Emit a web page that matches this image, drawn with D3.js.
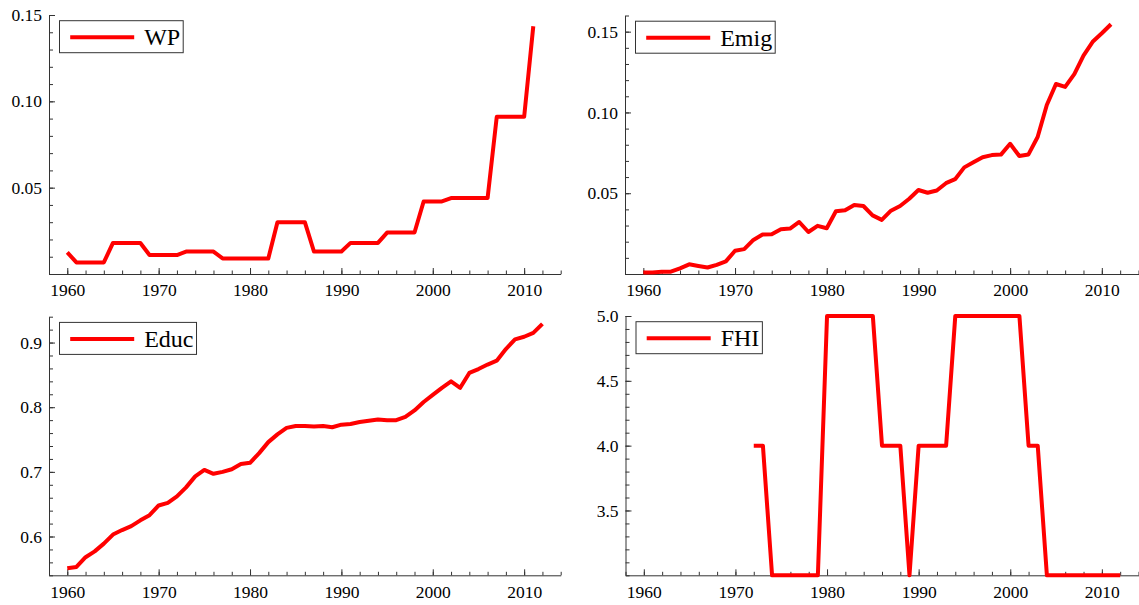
<!DOCTYPE html>
<html><head><meta charset="utf-8">
<script src="https://cdn.jsdelivr.net/npm/d3@7"></script>
<style>
body{margin:0;background:#fff}
svg{display:block}
svg text{font-family:'Liberation Serif','Times New Roman',Times,'Nimbus Roman','DejaVu Serif',serif !important;fill:#000}
</style>
</head><body>
<svg id="chart" width="1139" height="605"></svg>
<script>
// ---------- data ----------
const xTickYears = [1960, 1970, 1980, 1990, 2000, 2010];

const wpStart = 1960;
const wpValues = [0.0125,
  0.0067,0.0067,0.0067,0.0067,
  0.018,0.018,0.018,0.018,
  0.011,0.011,0.011,0.011,
  0.013,0.013,0.013,0.013,
  0.009,0.009,0.009,0.009,0.009,0.009,
  0.030,0.030,0.030,0.030,
  0.013,0.013,0.013,0.013,
  0.018,0.018,0.018,0.018,
  0.024,0.024,0.024,0.024,
  0.042,0.042,0.042,
  0.044,0.044,0.044,0.044,0.044,
  0.091,0.091,0.091,0.091,
  0.1435];
const wpTicks = [0.05, 0.10, 0.15];

const emigStart = 1960;
const emigValues = [0.001,0.001,0.0014,0.0014,0.0035,0.006,0.005,0.004,0.0057,0.0078,
  0.0144,0.0154,0.0211,0.0244,0.0246,0.0277,0.0281,0.0322,0.026,0.0298,
  0.0283,0.0388,0.0394,0.0427,0.0421,0.0363,0.0335,0.0392,0.0421,0.0466,
  0.052,0.0503,0.0517,0.0562,0.0587,0.066,0.0692,0.0723,0.0736,0.0739,
  0.0806,0.073,0.074,0.0848,0.1046,0.1176,0.1158,0.1237,0.1352,0.1437,
  0.149,0.1546];
const emigTicks = [0.05, 0.10, 0.15];

const educStart = 1960;
const educValues = [0.551,0.553,0.568,0.577,0.589,0.603,0.610,0.616,0.625,0.633,
  0.648,0.652,0.662,0.676,0.693,0.703,0.697,0.700,0.704,0.712,
  0.714,0.729,0.746,0.758,0.768,0.771,0.771,0.770,0.771,0.769,
  0.773,0.774,0.777,0.779,0.781,0.780,0.780,0.785,0.795,0.808,
  0.819,0.830,0.840,0.830,0.853,0.859,0.866,0.872,0.890,0.905,
  0.909,0.915,0.929];
const educTicks = [0.6, 0.7, 0.8, 0.9];

const fhiStart = 1972;
const fhiValues = [4,4,3,3,3,3,3,3,5,5,5,5,5,5,4,4,4,3,4,4,4,4,
  5,5,5,5,5,5,5,5,4,4,3,3,3,3,3,3,3,3,3];
const fhiTicks = [3.5, 4.0, 4.5, 5.0];

// ---------- layout ----------
const panels = [
  {name:"WP",   start:wpStart,   values:wpValues,   ticks:wpTicks,   yDomain:[0,0.15],   minorStep:0.01, fmt:".2f",
   x0:49,  x1:560.7, top:15,    bottom:274},
  {name:"Emig", start:emigStart, values:emigValues, ticks:emigTicks, yDomain:[0,0.16],   minorStep:0.01, fmt:".2f",
   x0:625, x1:1138.5, top:15.5, bottom:274},
  {name:"Educ", start:educStart, values:educValues, ticks:educTicks, yDomain:[0.54,0.94], minorStep:0.02, fmt:".1f",
   x0:49,  x1:560.7, top:316.7, bottom:575.3},
  {name:"FHI",  start:fhiStart,  values:fhiValues,  ticks:fhiTicks,  yDomain:[3,5],      minorStep:0.1,  fmt:".1f",
   x0:625.5, x1:1138.5, top:316, bottom:575.3}
];

const svg = d3.select("#chart");
const axisColor = "#333";
const serif = "'Liberation Serif','Times New Roman',Times,'Nimbus Roman','DejaVu Serif',serif";

panels.forEach(p => {
  const data = p.values.map((v,i) => ({year: p.start + i, value: v}));
  const x = d3.scaleLinear().domain([1958, 2014]).range([p.x0, p.x1]);
  const y = d3.scaleLinear().domain(p.yDomain).range([p.bottom, p.top]);
  const g = svg.append("g");

  // minor x ticks
  const minorX = d3.range(1958, 2014.01, 2);
  g.append("g").attr("transform", `translate(0,${p.bottom})`)
    .call(d3.axisBottom(x).tickValues(minorX).tickFormat("").tickSizeInner(-3.5).tickSizeOuter(0))
    .call(a => a.select(".domain").attr("stroke", axisColor))
    .call(a => a.selectAll(".tick line").attr("stroke", axisColor));
  // major x ticks
  g.append("g").attr("transform", `translate(0,${p.bottom})`)
    .attr("font-family", null)
    .call(d3.axisBottom(x).tickValues(xTickYears).tickFormat(d3.format("d")).tickSizeInner(-6).tickSizeOuter(0).tickPadding(10))
    .call(a => a.attr("font-family", serif).attr("font-size", 17.5))
    .call(a => a.select(".domain").remove())
    .call(a => a.selectAll(".tick line").attr("stroke", axisColor))
    .call(a => a.selectAll(".tick text").style("font-family", serif).style("font-size", "17.5px").attr("fill", "#000"));

  // minor y ticks
  const nMinor = Math.round((p.yDomain[1] - p.yDomain[0]) / p.minorStep);
  const minorY = d3.range(0, nMinor + 1).map(i => p.yDomain[0] + i * p.minorStep);
  g.append("g").attr("transform", `translate(${p.x0},0)`)
    .call(d3.axisLeft(y).tickValues(minorY).tickFormat("").tickSizeInner(-4).tickSizeOuter(0))
    .call(a => a.select(".domain").attr("stroke", axisColor))
    .call(a => a.selectAll(".tick line").attr("stroke", axisColor));
  // major y ticks
  g.append("g").attr("transform", `translate(${p.x0},0)`)
    .call(d3.axisLeft(y).tickValues(p.ticks).tickFormat(d3.format(p.fmt)).tickSizeInner(-6).tickSizeOuter(0).tickPadding(7))
    .call(a => a.attr("font-family", serif).attr("font-size", 17.5))
    .call(a => a.select(".domain").remove())
    .call(a => a.selectAll(".tick line").attr("stroke", axisColor))
    .call(a => a.selectAll(".tick text").style("font-family", serif).style("font-size", "17.5px").attr("fill", "#000"));

  // series line
  const line = d3.line().x(d => x(d.year)).y(d => y(d.value));
  g.append("path").datum(data)
    .attr("fill", "none").attr("stroke", "#ff0000").attr("stroke-width", 4)
    .attr("stroke-linejoin", "round").attr("d", line);

  // legend
  const lx = p.x0 + 10.5, ly = p.top + 5.7;
  const lg = g.append("g");
  const rect = lg.append("rect").attr("x", lx).attr("y", ly).attr("height", 32)
    .attr("fill", "#fff").attr("stroke", axisColor).attr("stroke-width", 1);
  lg.append("line").attr("x1", lx + 10.7).attr("x2", lx + 74.7)
    .attr("y1", ly + 16.5).attr("y2", ly + 16.5)
    .attr("stroke", "#ff0000").attr("stroke-width", 4);
  const t = lg.append("text").attr("x", lx + 84.7).attr("y", ly + 24.3)
    .style("font-family", serif).style("font-size", "24px").text(p.name);
  const w = t.node().getComputedTextLength();
  rect.attr("width", 84.7 + w + 3);
});
</script>
</body></html>
